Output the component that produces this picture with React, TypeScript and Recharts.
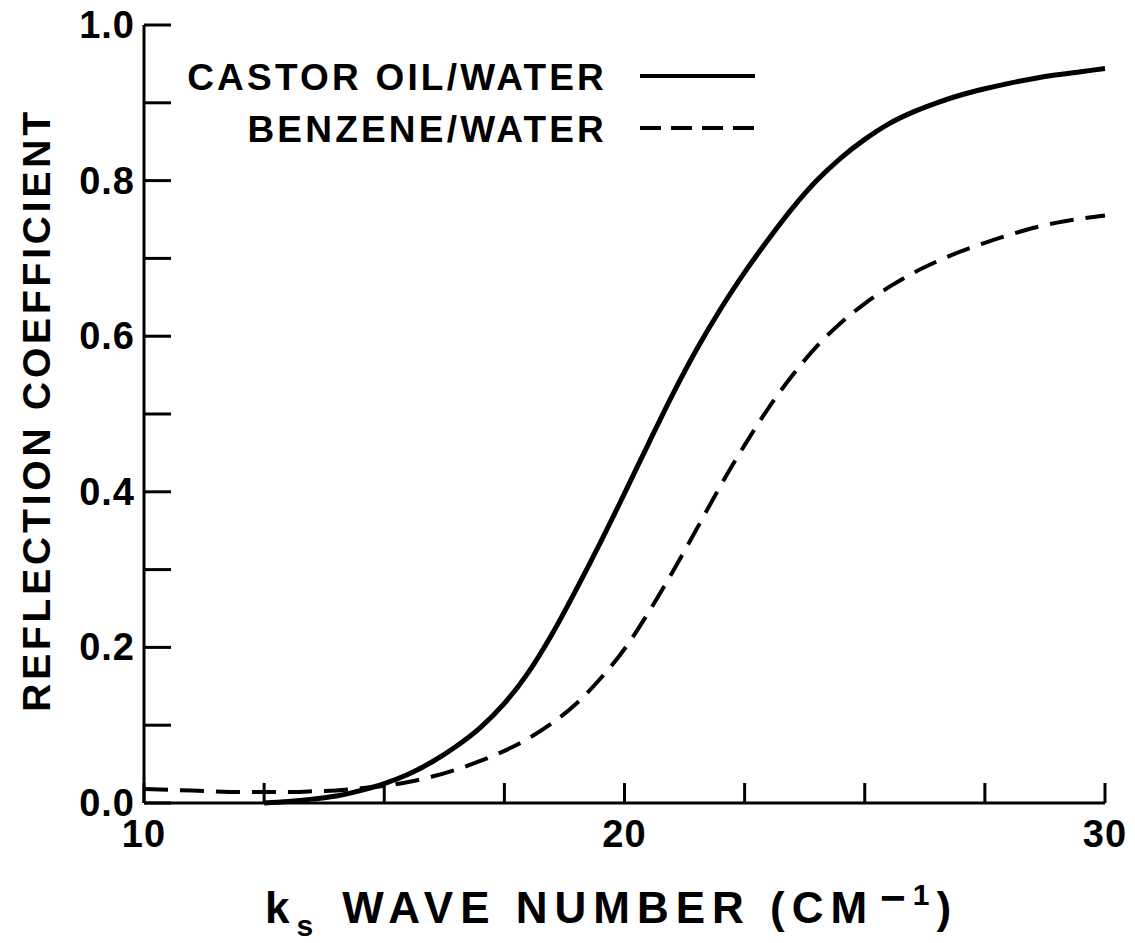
import React from "react";
import { LineChart, Line, XAxis, YAxis, Legend } from "recharts";

// wave number k_s (cm^-1)
const waveNumbers = [10, 11, 12, 12.5, 13, 13.5, 14, 14.5, 15, 15.5, 16, 16.5, 17, 17.5, 18, 18.5, 19, 19.5, 20, 20.5, 21, 21.5, 22, 22.5, 23, 23.5, 24, 24.5, 25, 25.5, 26, 26.5, 27, 27.5, 28, 28.5, 29, 29.5, 30];
// reflection coefficient
const castorOil = [null, null, null, 0.0, 0.002, 0.005, 0.009, 0.016, 0.025, 0.037, 0.053, 0.073, 0.097, 0.128, 0.168, 0.218, 0.275, 0.335, 0.398, 0.462, 0.525, 0.583, 0.635, 0.682, 0.725, 0.765, 0.8, 0.829, 0.853, 0.873, 0.888, 0.9, 0.91, 0.918, 0.925, 0.931, 0.936, 0.94, 0.944];
const benzene = [0.018, 0.016, 0.014, 0.014, 0.014, 0.015, 0.016, 0.019, 0.022, 0.027, 0.034, 0.043, 0.054, 0.067, 0.083, 0.103, 0.128, 0.16, 0.198, 0.245, 0.297, 0.352, 0.408, 0.46, 0.508, 0.55, 0.587, 0.617, 0.642, 0.663, 0.681, 0.696, 0.709, 0.72, 0.73, 0.739, 0.746, 0.751, 0.755];

const xTicks = [10, 12.5, 15, 17.5, 20, 22.5, 25, 27.5, 30];
const xLabelled = [10, 20, 30];
const yTicks = [0, 0.1, 0.2, 0.3, 0.4, 0.5, 0.6, 0.7, 0.8, 0.9, 1.0];
const yLabelled = [0, 0.2, 0.4, 0.6, 0.8, 1.0];
const legendOrder = ["CASTOR OIL/WATER", "BENZENE/WATER"];

const data = waveNumbers.map((k, i) => ({ k, castor: castorOil[i], benzene: benzene[i] }));

const FONT = "'Liberation Sans', Arial, sans-serif";
const INK = "#000";

const XTick = (props: any) => {
    const { x, y, payload } = props;
    const v = payload.value;
    return (
        <g>
            <line x1={x} y1={y} x2={x} y2={y - 20} stroke={INK} strokeWidth={3} />
            {xLabelled.includes(v) && (
                <text x={x} y={y + 44} textAnchor="middle" fontFamily={FONT} fontWeight="bold" fontSize={38} letterSpacing={1} fill={INK}>
                    {v}
                </text>
            )}
        </g>
    );
};

const YTick = (props: any) => {
    const { x, y, payload } = props;
    const v = payload.value;
    const labelled = yLabelled.some(l => Math.abs(l - v) < 1e-6);
    return (
        <g>
            <line x1={x} y1={y} x2={x + 27} y2={y} stroke={INK} strokeWidth={3} />
            {labelled && (
                <text x={x - 9} y={y + 13} textAnchor="end" fontFamily={FONT} fontWeight="bold" fontSize={38} letterSpacing={1} fill={INK}>
                    {v.toFixed(1)}
                </text>
            )}
        </g>
    );
};

const LegendBox = (props: any) => {
    const items = [...(props.payload || [])].sort(
        (a: any, b: any) => legendOrder.indexOf(a.value) - legendOrder.indexOf(b.value));
    return (
        <svg width={620} height={130}>
            {items.map((p: any, i: number) => (
                <g key={p.value}>
                    <text x={437} y={60 + i * 52} textAnchor="end" fontFamily={FONT} fontWeight="bold" fontSize={37} letterSpacing={3.2} fill={INK}>
                        {p.value}
                    </text>
                    <line x1={470} y1={46 + i * 52} x2={585} y2={46 + i * 52} stroke={INK} strokeWidth={4}
                        strokeDasharray={p.payload && p.payload.strokeDasharray ? "21 10" : undefined} />
                </g>
            ))}
        </svg>
    );
};

export default function App() {
    return (
        <div style={{ position: "absolute", left: 0, top: 0, background: "#fff" }}>
            <LineChart width={1135} height={943} data={data} margin={{ top: 25, right: 30, bottom: 139, left: 143 }}>
                <XAxis dataKey="k" type="number" domain={[10, 30]} ticks={xTicks} height={1}
                    tickSize={0} tickMargin={0} tick={<XTick />} tickLine={false}
                    axisLine={{ stroke: INK, strokeWidth: 3 }} interval={0} />
                <YAxis type="number" domain={[0, 1]} ticks={yTicks} width={1}
                    tickSize={0} tickMargin={0} tick={<YTick />} tickLine={false}
                    axisLine={{ stroke: INK, strokeWidth: 3 }} interval={0} />
                <Legend layout="horizontal" verticalAlign="middle" align="center" content={<LegendBox />}
                    wrapperStyle={{ top: 30, left: 170, width: 620, height: 130 }} />
                <Line dataKey="castor" name="CASTOR OIL/WATER" type="monotone" stroke={INK} strokeWidth={5}
                    dot={false} isAnimationActive={false} connectNulls={false} />
                <Line dataKey="benzene" name="BENZENE/WATER" type="monotone" stroke={INK} strokeWidth={4}
                    strokeDasharray="24 12" dot={false} isAnimationActive={false} />
                <text x={0} y={0} transform="translate(50, 410) rotate(-90)" textAnchor="middle"
                    fontFamily={FONT} fontWeight="bold" fontSize={39} letterSpacing={3.8} fill={INK}>
                    REFLECTION COEFFICIENT
                </text>
                <text x={265} y={923} textAnchor="start" fontFamily={FONT} fontWeight="bold" fontSize={44} letterSpacing={7} fill={INK}>
                    <tspan>k</tspan>
                    <tspan fontSize={30} dy={13}>s</tspan>
                    <tspan dy={-13} dx={22}>{"WAVE NUMBER (CM"}</tspan>
                    <tspan dx={6} dy={-10}>{"\u2212"}</tspan>
                    <tspan fontSize={30} dy={-8}>1</tspan>
                    <tspan dy={18}>)</tspan>
                </text>
            </LineChart>
        </div>
    );
}
